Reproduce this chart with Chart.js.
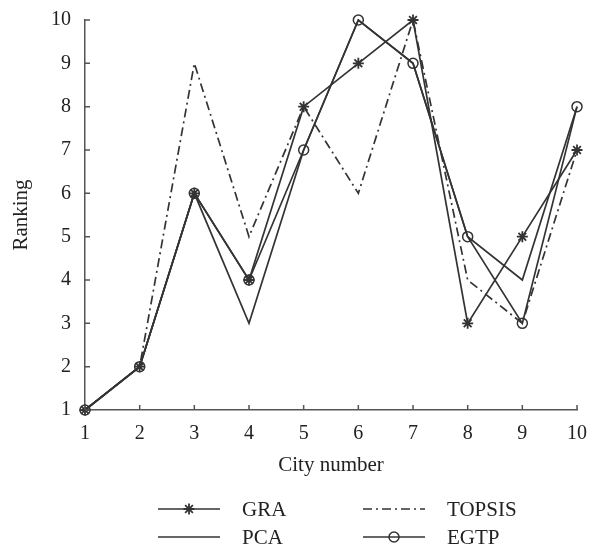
<!DOCTYPE html>
<html>
<head>
<meta charset="utf-8">
<script src="https://cdn.jsdelivr.net/npm/chart.js@4.4.0/dist/chart.umd.min.js"></script>
<style>
  html, body { margin: 0; padding: 0; background: #fff; }
  #wrap { width: 591px; height: 548px; }
</style>
</head>
<body>
<div id="wrap"><canvas id="rankChart" width="591" height="548"></canvas></div>
<script>
const cities = [1, 2, 3, 4, 5, 6, 7, 8, 9, 10];
const gra = [1, 2, 6, 4, 8, 9, 10, 3, 5, 7];
const pca = [1, 2, 6, 3, 7, 10, 9, 5, 4, 8];
const topsis = [1, 2, 9, 5, 8, 6, 10, 4, 3, 7];
const egtp = [1, 2, 6, 4, 7, 10, 9, 5, 3, 8];
const rankTicks = [1, 2, 3, 4, 5, 6, 7, 8, 9, 10];

const ink = '#333333';
const axisColor = '#555555';
const serif = '"Liberation Serif", "Times New Roman", serif';

function toPoints(values) {
  return cities.map((c, i) => ({ x: c, y: values[i] }));
}

// short ticks pointing into the plot, like the original
const innerTicks = {
  id: 'innerTicks',
  afterDraw(chart) {
    const { ctx, chartArea, scales } = chart;
    ctx.save();
    ctx.strokeStyle = axisColor;
    ctx.lineWidth = 1.5;
    ctx.beginPath();
    cities.forEach((c) => {
      const px = scales.x.getPixelForValue(c);
      ctx.moveTo(px, chartArea.bottom);
      ctx.lineTo(px, chartArea.bottom - 5);
    });
    rankTicks.forEach((r) => {
      const py = scales.y.getPixelForValue(r);
      ctx.moveTo(chartArea.left, py);
      ctx.lineTo(chartArea.left + 5, py);
    });
    ctx.stroke();
    ctx.restore();
  },
};

// legend in two columns under the axis title
const twoColLegend = {
  id: 'twoColLegend',
  afterDraw(chart) {
    const { ctx } = chart;
    const spots = [[158, 509], [158, 537], [363, 509], [363, 537]];
    chart.data.datasets.forEach((ds, i) => {
      const [x0, y0] = spots[i];
      ctx.save();
      ctx.strokeStyle = ds.borderColor;
      ctx.lineWidth = ds.borderWidth;
      ctx.setLineDash(ds.borderDash || []);
      ctx.beginPath();
      ctx.moveTo(x0, y0);
      ctx.lineTo(x0 + 62, y0);
      ctx.stroke();
      ctx.setLineDash([]);
      if (ds.pointRadius > 0) {
        ctx.fillStyle = ds.pointBackgroundColor;
        ctx.strokeStyle = ds.pointBorderColor;
        ctx.lineWidth = ds.pointBorderWidth;
        Chart.helpers.drawPoint(ctx, {
          pointStyle: ds.pointStyle,
          radius: ds.pointRadius,
          borderWidth: ds.pointBorderWidth,
        }, x0 + 31, y0);
      }
      ctx.fillStyle = '#222';
      ctx.font = '21px ' + serif;
      ctx.textBaseline = 'middle';
      ctx.fillText(ds.label, x0 + 84, y0 + 1);
      ctx.restore();
    });
  },
};

new Chart(document.getElementById('rankChart'), {
  type: 'line',
  data: {
    datasets: [
      {
        label: 'GRA',
        data: toPoints(gra),
        borderColor: ink,
        borderWidth: 1.7,
        pointStyle: 'star',
        pointRadius: 5.5,
        pointBorderWidth: 1.8,
        pointBorderColor: ink,
        pointBackgroundColor: ink,
      },
      {
        label: 'PCA',
        data: toPoints(pca),
        borderColor: ink,
        borderWidth: 1.7,
        pointRadius: 0,
      },
      {
        label: 'TOPSIS',
        data: toPoints(topsis),
        borderColor: ink,
        borderWidth: 1.7,
        borderDash: [9, 4, 2, 4],
        pointRadius: 0,
      },
      {
        label: 'EGTP',
        data: toPoints(egtp),
        borderColor: ink,
        borderWidth: 1.7,
        pointStyle: 'circle',
        pointRadius: 5,
        pointBorderWidth: 1.5,
        pointBorderColor: ink,
        pointBackgroundColor: 'rgba(255,255,255,0)',
      },
    ],
  },
  options: {
    responsive: false,
    animation: false,
    clip: false,
    layout: { padding: { left: 0, right: 11, top: 20, bottom: 70 } },
    plugins: {
      legend: { display: false },
      tooltip: { enabled: false },
    },
    scales: {
      x: {
        type: 'linear',
        min: 1,
        max: 10,
        afterFit(scale) { scale.height = 68; },
        afterBuildTicks(scale) { scale.ticks = cities.map((v) => ({ value: v })); },
        border: { display: true, color: axisColor, width: 1.5 },
        grid: { display: false },
        ticks: {
          color: '#222',
          padding: 4,
          font: { family: serif, size: 20 },
          maxRotation: 0,
        },
        title: {
          display: true,
          text: 'City number',
          color: '#222',
          font: { family: serif, size: 21 },
          padding: { top: 0, bottom: 0 },
        },
      },
      y: {
        type: 'linear',
        min: 1,
        max: 10,
        afterFit(scale) { scale.width = 85; },
        afterBuildTicks(scale) { scale.ticks = rankTicks.map((v) => ({ value: v })); },
        border: { display: true, color: axisColor, width: 1.5 },
        grid: { display: false },
        ticks: {
          color: '#222',
          padding: 6,
          font: { family: serif, size: 20 },
        },
        title: {
          display: true,
          text: 'Ranking',
          color: '#222',
          font: { family: serif, size: 21 },
          padding: { top: 9, bottom: 0 },
        },
      },
    },
  },
  plugins: [innerTicks, twoColLegend],
});
</script>
</body>
</html>
